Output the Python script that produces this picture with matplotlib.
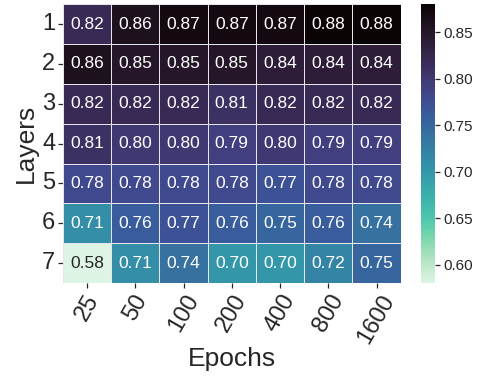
import numpy as np
import pandas as pd
import seaborn as sns
import matplotlib
matplotlib.use('Agg')
import matplotlib.pyplot as plt

# 数据
layers = ['1', '2', '3', '4', '5', '6', '7']
epochs = ['25', '50', '100', '200', '400', '800', '1600']
row1 = [0.82, 0.86, 0.87, 0.87, 0.87, 0.88, 0.88]
row2 = [0.86, 0.85, 0.85, 0.85, 0.84, 0.84, 0.84]
row3 = [0.82, 0.82, 0.82, 0.81, 0.82, 0.82, 0.82]
row4 = [0.81, 0.80, 0.80, 0.79, 0.80, 0.79, 0.79]
row5 = [0.78, 0.78, 0.78, 0.78, 0.77, 0.78, 0.78]
row6 = [0.71, 0.76, 0.77, 0.76, 0.75, 0.76, 0.74]
row7 = [0.58, 0.71, 0.74, 0.70, 0.70, 0.72, 0.75]

df = pd.DataFrame([row1, row2, row3, row4, row5, row6, row7], index=layers, columns=epochs)

sns.set_theme(style='ticks')
plt.rcParams['font.family'] = ['Liberation Sans', 'DejaVu Sans']

fig = plt.figure(figsize=(4.88, 3.77), dpi=100)
ax = fig.add_axes([0.129, 0.249, 0.692, 0.74])
cax = fig.add_axes([0.863, 0.249, 0.029, 0.74])

sns.heatmap(df, ax=ax, cbar_ax=cax, cmap='mako_r', annot=True, fmt='.2f',
            linewidths=0.6, linecolor='#e6e6ee', annot_kws={'fontsize': 12.5})

ax.set_xlabel('Epochs', fontsize=19, labelpad=0)
ax.set_ylabel('Layers', fontsize=19, labelpad=3)
ax.tick_params(axis='both', labelsize=17, length=3.5, width=0.9, pad=2)
plt.setp(ax.get_xticklabels(), rotation=60)
plt.setp(ax.get_yticklabels(), rotation=0)
cax.tick_params(labelsize=11, length=3.5, width=0.9, pad=2)

# 导出图片
fig.savefig('out.png', dpi=100)
